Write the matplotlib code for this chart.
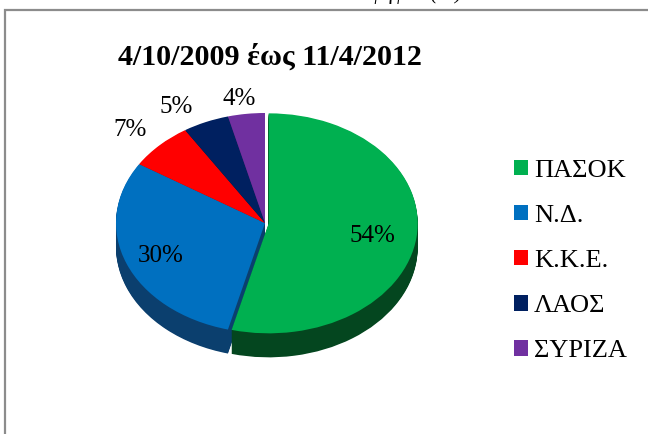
import matplotlib
matplotlib.use("Agg")

import matplotlib.pyplot as plt
from matplotlib.patches import Rectangle
import numpy as np

PARTIES = ["ΠΑΣΟΚ", "Ν.Δ.", "Κ.Κ.Ε.", "ΛΑΟΣ", "ΣΥΡΙΖΑ"]
SHARES = [54, 30, 7, 5, 4]
TITLE = "4/10/2009 έως 11/4/2012"
HEADER = "Ποσοστά ψήφου (%)"

COLORS = ["#00B050", "#0070C0", "#FF0000", "#002060", "#7030A0"]
SIDE_COLORS = ["#04461F", "#0B3F6E", "#9A0000", "#00122F", "#3F1A5C"]

W, H = 648, 434
SERIF = ["Liberation Serif", "DejaVu Serif"]

plt.rcParams["font.family"] = SERIF

fig = plt.figure(figsize=(W / 100, H / 100), dpi=100)

# chart frame (only top and left edges fall inside the picture)
fig.add_artist(Rectangle((5 / W, -0.2), 1.3, 1.2 - 10 / H, transform=fig.transFigure,
                         fill=False, edgecolor="#8c8c8c", lw=1.6))

# header line of the page, mostly cut off by the top edge
fig.text(376 / W, 1 + 1.5 / H, HEADER, ha="center", va="baseline",
         fontsize=15, style="italic")

fig.text(270 / W, 1 - 57 / H, TITLE, ha="center", va="center",
         fontsize=21.6, fontweight="bold")

# pie axes: top face is an ellipse of radii rx, ry around (cx, cy) in pixels
rx, ry = 149.0, 110.0
cx, cy = 265.0, 223.0
xlim = (-1.1, 1.1)
ylim = (-1.35, 1.1)
left_px = cx + xlim[0] * rx
right_px = cx + xlim[1] * rx
top_px = cy - ylim[1] * ry
bot_px = cy - ylim[0] * ry
ax = fig.add_axes([left_px / W, 1 - bot_px / H, (right_px - left_px) / W,
                   (bot_px - top_px) / H])

depth = 24.0 / ry
explode = [0.025, 0, 0, 0, 0]
n_layers = 30
for k in range(n_layers, 0, -1):
    ax.pie(SHARES, colors=SIDE_COLORS, startangle=90, counterclock=False,
           explode=explode, center=(0, -depth * k / n_layers),
           wedgeprops=dict(linewidth=0))
ax.pie(SHARES, colors=COLORS, startangle=90, counterclock=False,
       explode=explode, wedgeprops=dict(linewidth=0))

ax.set_aspect("auto")
ax.set_xlim(*xlim)
ax.set_ylim(*ylim)
ax.axis("off")

# percentage labels: big slices inside, small ones just outside the rim
total = float(sum(SHARES))
start = 90.0
for share in SHARES:
    sweep = share / total * 360.0
    mid = np.deg2rad(start - sweep / 2)
    c, s = np.cos(mid), np.sin(mid)
    if share >= 10:
        ax.annotate(f"{share}%", (0.74 * c, 0.74 * s), xytext=(-1.5, -2),
                    textcoords="offset points", ha="center", va="center",
                    fontsize=18)
    else:
        ha = "right" if c < -0.3 else "center"
        dx = -9 if ha == "right" else -5
        ax.annotate(f"{share}%", (c, s), xytext=(dx, 3),
                    textcoords="offset points", ha=ha, va="bottom",
                    fontsize=18)
    start -= sweep

handles = [Rectangle((0, 0), 1, 1, facecolor=c, edgecolor="none") for c in COLORS]
fig.legend(handles, PARTIES, loc="center left",
           bbox_to_anchor=(514 / W, 1 - 261 / H), frameon=False,
           fontsize=19, handlelength=0.53, handleheight=0.53,
           handletextpad=0.23, labelspacing=0.87, borderpad=0,
           borderaxespad=0)

fig.savefig("out.png", dpi=100)
